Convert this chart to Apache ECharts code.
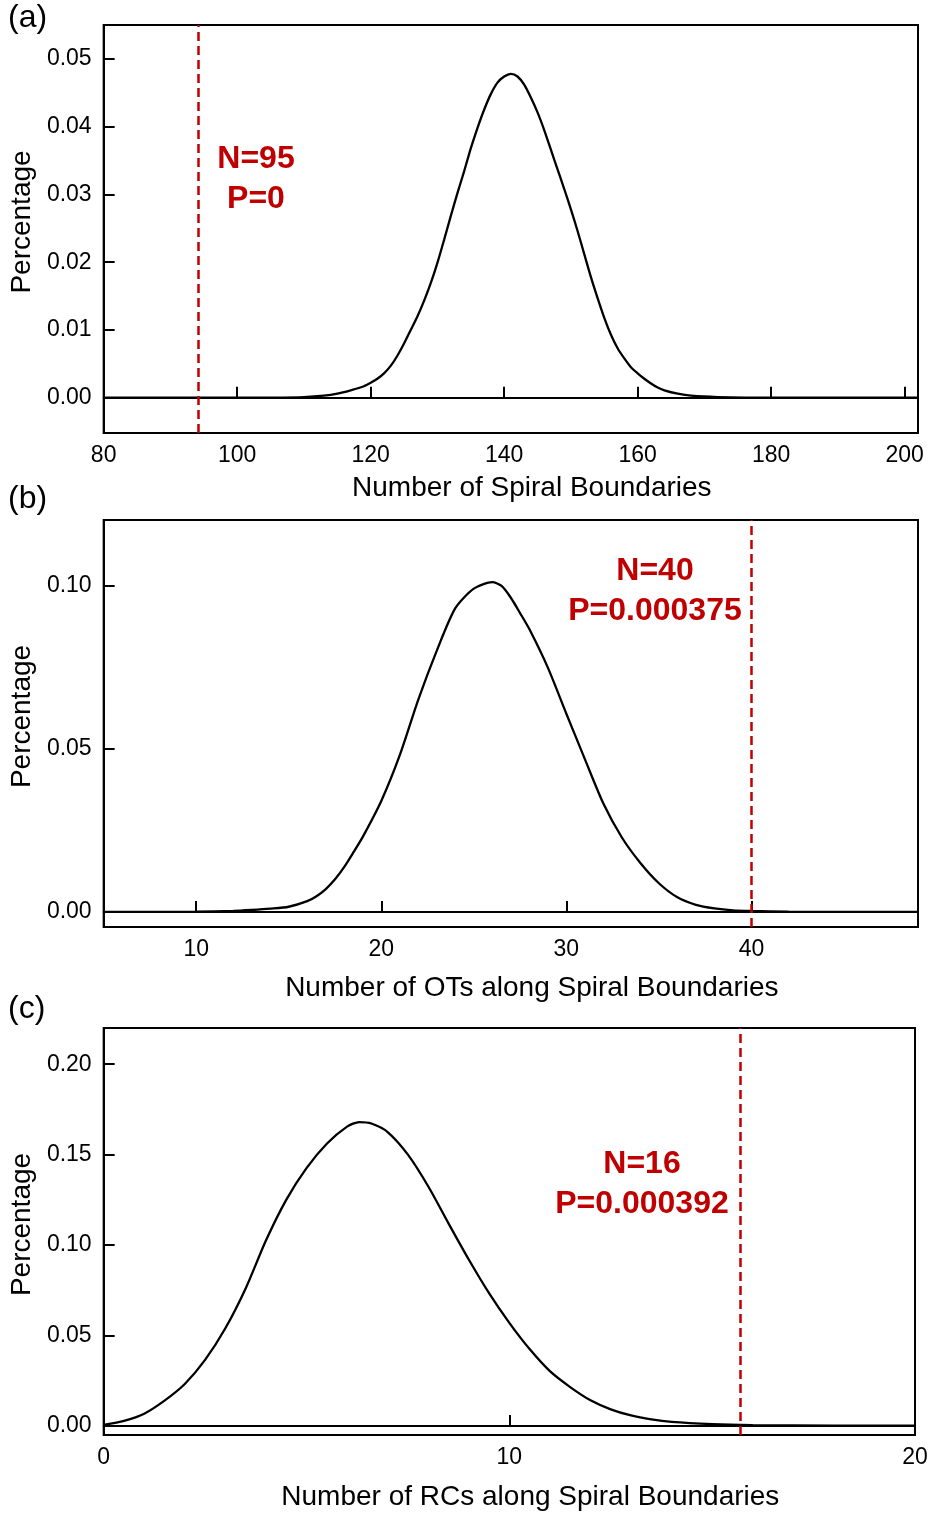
<!DOCTYPE html>
<html>
<head>
<meta charset="utf-8">
<title>Spiral boundary distributions</title>
<script src="https://cdn.jsdelivr.net/npm/echarts@6.0.0/dist/echarts.min.js"></script>
<style>
  html, body { margin: 0; padding: 0; background: #fff; }
  #chart { width: 931px; height: 1515px; }
</style>
</head>
<body>
<div id="chart"></div>
<script>
// panel (a): number of spiral boundaries
var aX = [80, 100, 105, 110, 113, 115, 117, 119, 120, 121, 122, 123, 124, 125, 126, 127, 128, 129, 130, 131, 132, 133, 134, 135,
  136, 137, 138, 139, 140, 141, 142, 143, 144, 145, 146, 147, 148, 149, 150, 151, 152, 153, 154, 155,
  156, 157, 158, 159, 160, 161, 162, 163, 164, 166, 168, 172, 180, 202];
var aY = [0, 0, 0.00002, 0.0001, 0.0003, 0.0006, 0.0011, 0.0017, 0.0022, 0.0028, 0.0036, 0.0047, 0.0062, 0.0080, 0.0100, 0.0120, 0.0143, 0.0169, 0.0199, 0.0233, 0.0268, 0.0302, 0.0334, 0.0368,
  0.0398, 0.0425, 0.0448, 0.0465, 0.0474, 0.0478, 0.0474, 0.0462, 0.0443, 0.0421, 0.0395, 0.0366, 0.0337, 0.0308, 0.0278, 0.0246, 0.0212, 0.0178, 0.0147, 0.0118,
  0.0093, 0.0073, 0.0058, 0.0045, 0.0036, 0.0028, 0.0021, 0.0015, 0.0011, 0.0006, 0.0003, 0.0001, 0, 0];
var aXTicks = [80, 100, 120, 140, 160, 180, 200];
var aYTicks = [0, 0.01, 0.02, 0.03, 0.04, 0.05];
var aObserved = 94.2;

// panel (b): OTs along spiral boundaries
var bX = [5, 10, 12, 13, 14, 15, 16, 16.5, 17, 17.5, 18, 18.5, 19, 20, 21, 22, 23, 24, 25, 26, 26.5, 27, 27.5, 28, 29,
  30, 31, 32, 33, 34, 35, 36, 37, 38, 39, 40, 42, 49];
var bY = [0, 0.0001, 0.0003, 0.0006, 0.0010, 0.0016, 0.0033, 0.0048, 0.0070, 0.0100, 0.0138, 0.0183, 0.0230, 0.0340, 0.0480, 0.0650, 0.0800, 0.0930, 0.0990, 0.1010, 0.0998, 0.0962, 0.0915, 0.0866, 0.0748,
  0.0607, 0.0468, 0.0332, 0.0228, 0.0150, 0.0088, 0.0045, 0.0022, 0.0011, 0.0005, 0.0003, 0.0001, 0];
var bXTicks = [10, 20, 30, 40];
var bYTicks = [0, 0.05, 0.10];
var bObserved = 40;

// panel (c): RCs along spiral boundaries
var cX = [0, 0.5, 1, 1.5, 2, 2.5, 3, 3.5, 4, 4.5, 5, 5.5, 6, 6.3, 6.6, 7, 7.5, 8, 8.5, 9,
  9.5, 10, 10.5, 11, 11.5, 12, 12.5, 13, 13.5, 14, 15, 16, 18, 20];
var cY = [0.0006, 0.0028, 0.0068, 0.0140, 0.0232, 0.0365, 0.0540, 0.0760, 0.1025, 0.1250, 0.1425, 0.1560, 0.1655, 0.1680, 0.1672, 0.1625, 0.1500, 0.1325, 0.1120, 0.0920,
  0.0734, 0.0570, 0.0425, 0.0303, 0.0215, 0.0142, 0.0092, 0.0058, 0.0036, 0.0022, 0.0010, 0.0005, 0.0002, 0.0001];
var cXTicks = [0, 10, 20];
var cYTicks = [0, 0.05, 0.10, 0.15, 0.20];
var cObserved = 15.7;

var FONT = '"Liberation Sans", Arial, sans-serif';
var RED = '#c00000';

function zip(xs, ys) {
  return xs.map(function(x, i) { return [x, ys[i]]; });
}

function xAxisCfg(idx, min, max, ticks, name, gap) {
  return {
    type: 'value', gridIndex: idx, min: min, max: max,
    name: name, nameLocation: 'middle', nameGap: gap,
    // left padding nudges the title ~20px right of the grid centre, as in the figure
    nameTextStyle: { fontFamily: FONT, fontSize: 28, color: '#000', padding: [0, 0, 0, 42] },
    axisLine: { lineStyle: { color: '#000', width: 2 } },
    axisTick: { inside: true, length: 11, customValues: ticks, lineStyle: { color: '#000', width: 2 } },
    axisLabel: { customValues: ticks, margin: 11, fontFamily: FONT, fontSize: 23, color: '#000' },
    splitLine: { show: false }
  };
}

function yAxisCfg(idx, min, max, ticks) {
  return {
    type: 'value', gridIndex: idx, min: min, max: max,
    name: 'Percentage', nameLocation: 'middle', nameGap: 66,
    nameTextStyle: { fontFamily: FONT, fontSize: 28, color: '#000', padding: [0, 0, 0, 14] },
    axisLine: { lineStyle: { color: '#000', width: 2 } },
    axisTick: { inside: true, length: 11, customValues: ticks, lineStyle: { color: '#000', width: 2 } },
    axisLabel: {
      customValues: ticks, margin: 12, fontFamily: FONT, fontSize: 23, color: '#000',
      formatter: function(v) { return v.toFixed(2); }
    },
    splitLine: { show: false }
  };
}

function curve(idx, data, observed) {
  return {
    type: 'line', xAxisIndex: idx, yAxisIndex: idx,
    data: data, smooth: 0.25, showSymbol: false, silent: true,
    lineStyle: { color: '#000', width: 2.3 },
    markLine: {
      silent: true, symbol: 'none', label: { show: false },
      lineStyle: { color: RED, width: 2.5, type: [9, 5] },
      data: [{ xAxis: observed }]
    }
  };
}

// centred two-line annotation; x is the centre of the text block
function redText(x, y, lines) {
  return {
    type: 'text', x: x, y: y,
    style: {
      text: lines, fill: RED, font: 'bold 32px ' + FONT,
      align: 'center', verticalAlign: 'top', lineHeight: 40
    }
  };
}

function panelTag(x, y, txt) {
  return { type: 'text', left: x, top: y, style: { text: txt, fill: '#000', font: '32px ' + FONT } };
}

var chart = echarts.init(document.getElementById('chart'));

var option = {
  backgroundColor: '#fff',
  animation: false,
  grid: [
    { left: 103, top: 25, width: 815, height: 408, show: true, borderColor: '#000', borderWidth: 2 },
    { left: 103, top: 520, width: 815, height: 407, show: true, borderColor: '#000', borderWidth: 2 },
    { left: 100, top: 1028, width: 815, height: 407, show: true, borderColor: '#000', borderWidth: 2 }
  ],
  xAxis: [
    xAxisCfg(0, 80, 202, aXTicks, 'Number of Spiral Boundaries', 41),
    xAxisCfg(1, 5, 49, bXTicks, 'Number of OTs along Spiral Boundaries', 47),
    xAxisCfg(2, 0, 20, cXTicks, 'Number of RCs along Spiral Boundaries', 48)
  ],
  yAxis: [
    yAxisCfg(0, -0.0052, 0.055, aYTicks),
    yAxisCfg(1, -0.0046, 0.12, bYTicks),
    yAxisCfg(2, -0.005, 0.22, cYTicks)
  ],
  series: [
    curve(0, zip(aX, aY), aObserved),
    curve(1, zip(bX, bY), bObserved),
    curve(2, zip(cX, cY), cObserved)
  ],
  graphic: [
    panelTag(8, 2, '(a)'),
    panelTag(8, 483, '(b)'),
    panelTag(8, 993, '(c)'),
    redText(256, 139, 'N=95\nP=0'),
    redText(655, 551, 'N=40\nP=0.000375'),
    redText(642, 1144, 'N=16\nP=0.000392')
  ]
};

chart.setOption(option);
</script>
</body>
</html>
